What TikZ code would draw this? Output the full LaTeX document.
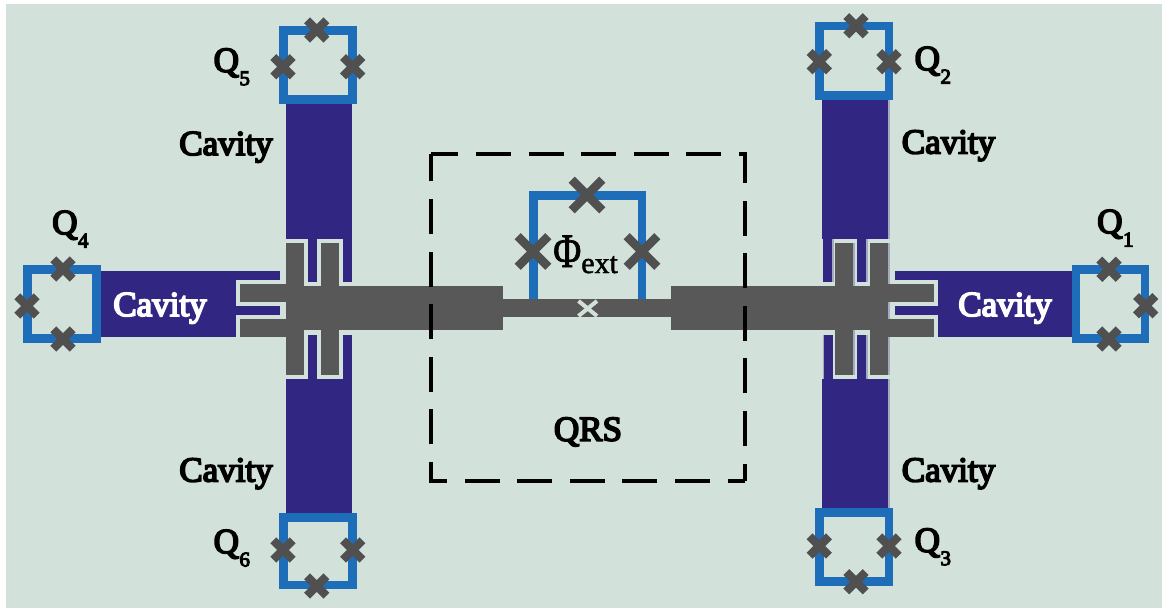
\documentclass[tikz,border=0pt]{standalone}
\usepackage{graphicx}
\usepackage{fontspec}
\setmainfont{Liberation Serif}
\newfontfamily\fbfont[FakeBold=5]{Liberation Serif}
\newfontfamily\phifont[FakeBold=1.5]{Liberation Serif}
\definecolor{bgc}{HTML}{D2E2DA}
\definecolor{cav}{HTML}{312682}
\definecolor{gry}{HTML}{585858}
\definecolor{blu}{HTML}{1D6DB8}
\definecolor{xgr}{HTML}{505050}
\definecolor{shd}{HTML}{A4ABBE}
\tikzset{
  cavfill/.style={fill=cav,draw=none},
  gryfill/.style={fill=gry,draw=none},
  shdfill/.style={fill=shd,draw=none},
  loopline/.style={draw=blu,line width=8.7pt,line join=miter},
  lbl/.style={font=\fontsize{35}{35}\fbfont,text=black,inner sep=0pt,anchor=base},
  cavlbl/.style={font=\fontsize{35}{35}\fbfont,text=white,inner sep=0pt,anchor=base},
  qlbl/.style={font=\fontsize{35}{35}\fbfont,text=black,inner sep=0pt,anchor=base west},
  dashbox/.style={black,line width=4.3pt,line join=miter,dash pattern=on 35pt off 17.6pt,dash phase=17.5pt}
}
\newcommand{\qsub}[1]{Q\kern0.5pt\raisebox{-13.5pt}{\fontsize{21}{21}\fbfont #1}}
\newcommand{\jjsmall}[2]{\draw[xgr,line width=8.4pt] (#1-9.7,#2-9.7)--(#1+9.7,#2+9.7) (#1-9.7,#2+9.7)--(#1+9.7,#2-9.7);}
\newcommand{\jjbig}[2]{\draw[xgr,line width=8.6pt] (#1-15.3,#2-15.3)--(#1+15.3,#2+15.3) (#1-15.3,#2+15.3)--(#1+15.3,#2-15.3);}
\begin{document}
\begin{tikzpicture}[x=1pt,y=-1pt]
\useasboundingbox (0,0) rectangle (1162,608);
\fill[bgc] (6,4) rectangle (1162,608);
% faint edges on the right-hand parts
\fill[shdfill] (888,97) rectangle (889.8,239);
\fill[shdfill] (888,379) rectangle (889.8,510);
\fill[shdfill] (832,239) rectangle (833.5,282);
\fill[shdfill] (866,239) rectangle (868,282);
\fill[shdfill] (866,335) rectangle (868,379);
\fill[shdfill] (822.7,335) rectangle (824,379);
\fill[shdfill] (853,243) rectangle (855,375);
\fill[shdfill] (888,243) rectangle (890,375);
% cavities
\fill[cavfill] (286,100) rectangle (352,239);
\fill[cavfill] (308,239) rectangle (317,282);
\fill[cavfill] (343,239) rectangle (352,282);
\fill[cavfill] (286,379) rectangle (352,514);
\fill[cavfill] (308,335) rectangle (317,379);
\fill[cavfill] (343,335) rectangle (352,379);
\fill[cavfill] (100,271) rectangle (236,337);
\fill[cavfill] (236,271) rectangle (280,280);
\fill[cavfill] (236,306) rectangle (280,315);
\fill[cavfill] (822,97) rectangle (888,239);
\fill[cavfill] (823,239) rectangle (832,282);
\fill[cavfill] (857,239) rectangle (866,282);
\fill[cavfill] (822,379) rectangle (888,510);
\fill[cavfill] (824,335) rectangle (833,379);
\fill[cavfill] (857,335) rectangle (866,379);
\fill[cavfill] (937.5,271) rectangle (1072,337);
\fill[cavfill] (895,271) rectangle (938,280);
\fill[cavfill] (895,306) rectangle (938,315);
% loops
\draw[loopline] (27.3,269.3) rectangle (96.7,338.7);
\draw[loopline] (1076,269.3) rectangle (1145,338.7);
\draw[loopline] (283.3,30.3) rectangle (352.7,99.7);
\draw[loopline] (283.3,517.5) rectangle (352.7,585);
\draw[loopline] (819.7,26) rectangle (889,95.7);
\draw[loopline] (819.7,512.6) rectangle (889,581.7);
\draw[blu,line width=8.7pt,line join=miter] (533.5,300)--(533.5,195.5)--(642,195.5)--(642,300);
% central conductor
\fill[gryfill] (286,243) rectangle (304,375);
\fill[gryfill] (321,243) rectangle (339,375);
\fill[gryfill] (240,284) rectangle (290,302);
\fill[gryfill] (240,319) rectangle (290,337);
\fill[gryfill] (286,286) rectangle (503,330);
\fill[gryfill] (503,299) rectangle (671,317);
\fill[gryfill] (671,286) rectangle (888,330);
\fill[gryfill] (835,243) rectangle (853,375);
\fill[gryfill] (870,243) rectangle (888,375);
\fill[gryfill] (880,284) rectangle (934,302);
\fill[gryfill] (880,319) rectangle (934,337);
\draw[bgc,line width=4pt] (578.5,301)--(597,316) (578.5,316)--(597,301);
% junctions
\jjsmall{63}{269}\jjsmall{27}{306}\jjsmall{63}{339}
\jjsmall{1109}{269.3}\jjsmall{1145.7}{305.7}\jjsmall{1109}{339}
\jjsmall{316.7}{30}\jjsmall{283}{66.7}\jjsmall{352.7}{66.7}
\jjsmall{283}{550}\jjsmall{352.7}{550}\jjsmall{316.7}{586}
\jjsmall{856}{25.7}\jjsmall{819.3}{61.7}\jjsmall{889}{61.7}
\jjsmall{819.3}{546}\jjsmall{889}{546}\jjsmall{856}{581.7}
\jjbig{587}{195}\jjbig{533}{251.5}\jjbig{642}{251.5}
% QRS box
\coordinate (brc) at (745,481);
\coordinate (blc) at (431,481);
\coordinate (tlc) at (431,154);
\coordinate (trc) at (745,154);
\draw[dashbox] (brc)--(blc)--(tlc);
\draw[dashbox] (brc)--(trc)--(tlc);
% labels
\node[lbl] (c5) at (226,155) {Cavity};
\node[lbl] (c2) at (948.5,153.5) {Cavity};
\node[lbl] (c6) at (226,481.5) {Cavity};
\node[lbl] (c3) at (948.5,481.5) {Cavity};
\node[cavlbl] (c4) at (160,316) {Cavity};
\node[cavlbl] (c1) at (1005,316) {Cavity};
\node[qlbl] (q5) at (213.5,71.7) {\qsub{5}};
\node[qlbl] (q2) at (914.5,70) {\qsub{2}};
\node[qlbl] (q4) at (52,234) {\qsub{4}};
\node[qlbl] (q1) at (1097,233) {\qsub{1}};
\node[qlbl] (q6) at (213.5,553) {\qsub{6}};
\node[qlbl] (q3) at (914.5,551.7) {\qsub{3}};
\node[lbl] (qrs) at (588,440.7) {QRS};
\node[inner sep=0pt,anchor=base west,font=\fontsize{48}{48}\phifont] (phi) at (553,267) {\scalebox{.8}[1]{Φ}\raisebox{-6pt}{\fontsize{30}{30}\phifont ext}};
\end{tikzpicture}
\end{document}
